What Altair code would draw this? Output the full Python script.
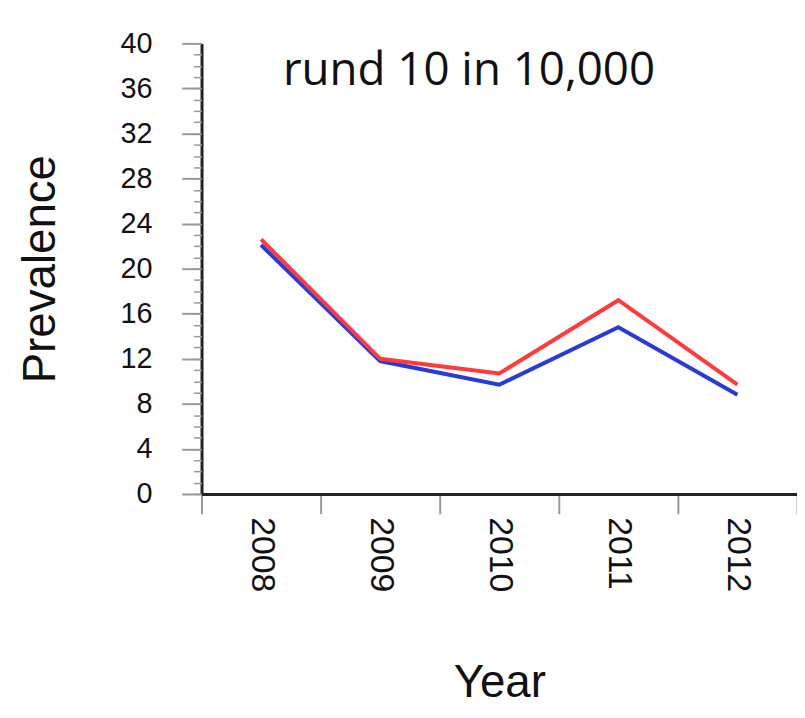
import altair as alt
import pandas as pd

years = ["2008", "2009", "2010", "2011", "2012"]
red_values = [22.6, 12.0, 10.7, 17.2, 9.7]
blue_values = [22.1, 11.8, 9.7, 14.8, 8.8]
major_ticks = list(range(0, 41, 4))
minor_ticks = list(range(0, 41, 1))
annotation = "rund 10 in 10,000"

df_red = pd.DataFrame({"Year": years, "Prevalence": red_values})
df_blue = pd.DataFrame({"Year": years, "Prevalence": blue_values})

x_scale = alt.Scale(type="band", paddingInner=0, paddingOuter=0)

x_main = alt.X(
    "Year:O",
    scale=x_scale,
    axis=alt.Axis(
        title="Year",
        tickBand="extent",
        labelAngle=90,
        labelFont="Liberation Sans",
        labelFontSize=34,
        labelColor="#111",
        labelPadding=3,
        tickSize=20,
        tickColor="#999",
        tickWidth=2,
        domainColor="#222",
        domainWidth=3,
        grid=False,
        titleFont="Liberation Sans",
        titleFontSize=46,
        titleFontWeight="normal",
        titleColor="#111",
        titleBaseline="alphabetic",
        titleY=204,
    ),
)

y_scale = alt.Scale(domain=[0, 40], nice=False)

blue = alt.Chart(df_blue).mark_line(color="#2a3ad8", strokeWidth=4).encode(
    x=x_main,
    y=alt.Y(
        "Prevalence:Q",
        scale=y_scale,
        axis=alt.Axis(
            orient="left",
            title="Prevalence",
            values=major_ticks,
            labelFont="Liberation Sans",
            labelFontSize=29,
            labelColor="#111",
            labelPadding=30,
            tickSize=20,
            tickColor="#999",
            tickWidth=2,
            domainColor="#222",
            domainWidth=3,
            grid=False,
            titleFont="Liberation Sans",
            titleFontSize=46,
            titleFontWeight="normal",
            titleColor="#111",
            titleAngle=-90,
            titleBaseline="middle",
            titleX=-162,
        ),
    ),
)

red = alt.Chart(df_red).mark_line(color="#ff3b3b", strokeWidth=4).encode(
    x=x_main,
    y=alt.Y(
        "Prevalence:Q",
        scale=y_scale,
        axis=alt.Axis(
            orient="left",
            title=None,
            values=minor_ticks,
            labels=False,
            domain=False,
            grid=False,
            tickSize=8,
            tickColor="#999",
            tickWidth=1.5,
        ),
    ),
)

chart = (
    alt.layer(blue, red, view=alt.ViewBackground(stroke="transparent", strokeWidth=0))
    .resolve_axis(y="independent")
    .properties(
        width=600,
        height=454,
        autosize=alt.AutoSizeParams(type="none"),
        padding={"left": 195, "top": 33, "right": 0, "bottom": 213},
        title=alt.TitleParams(
            annotation,
            anchor="start",
            frame="group",
            font="Open Sans",
            fontSize=46,
            fontWeight="normal",
            color="#111",
            baseline="alphabetic",
            offset=0,
            dx=82,
            dy=102,
        ),
    )
    .configure_view(stroke="transparent", strokeWidth=0, strokeOpacity=0)
    .configure_axis(grid=False)
    .configure(background="white")
)

chart.save("out.html", embed_options={"renderer": "svg", "actions": False})
